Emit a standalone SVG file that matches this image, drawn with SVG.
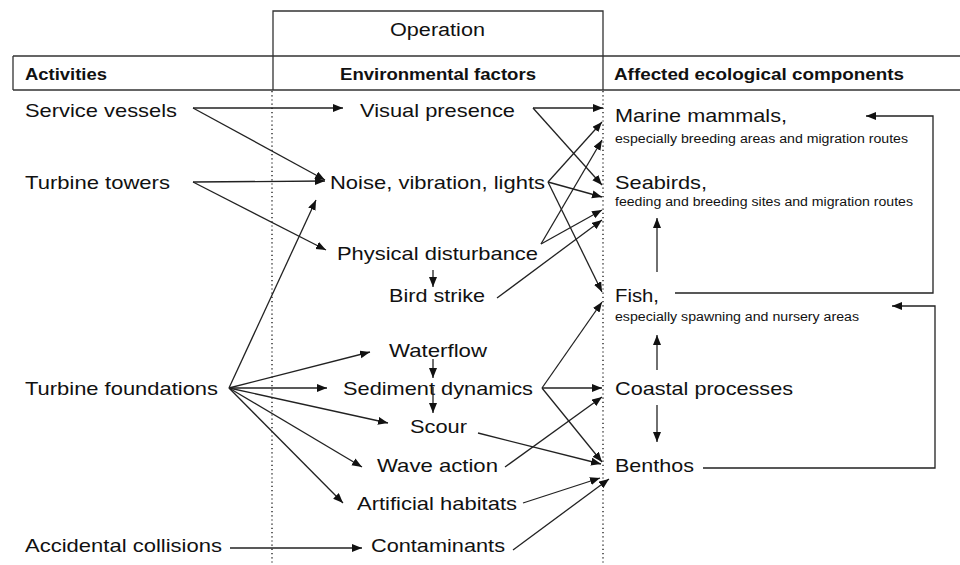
<svg xmlns="http://www.w3.org/2000/svg" width="960" height="565" viewBox="0 0 960 565">
<defs>
<marker id="ah" markerUnits="userSpaceOnUse" markerWidth="11" markerHeight="9" refX="10" refY="4" orient="auto">
<path d="M0,0 L10,4 L0,8 z" fill="#111"/>
</marker>
<style>
.t{font-family:"Liberation Sans",Arial,sans-serif;font-size:19px;fill:#111}
.s{font-family:"Liberation Sans",Arial,sans-serif;font-size:12.5px;fill:#111}
.h{font-family:"Liberation Sans",Arial,sans-serif;font-size:16px;font-weight:bold;fill:#111}
.op{font-family:"Liberation Sans",Arial,sans-serif;font-size:18px;fill:#111}
.frame{fill:none;stroke:#333;stroke-width:1.3}
.dot{fill:none;stroke:#333;stroke-width:1.5;stroke-dasharray:1.2 3}
.c{fill:none;stroke:#222;stroke-width:1.3;marker-end:url(#ah)}
.cn{fill:none;stroke:#222;stroke-width:1.3}
</style>
</defs>
<rect width="960" height="565" fill="#fff"/>
<g id="header">
<path class="frame" d="M273,90 V11 H603 V90 M13,56 H960 M13,90 H960 M13,56 V90"/>
<text class="op" x="390" y="36" textLength="95" lengthAdjust="spacingAndGlyphs">Operation</text>
<text class="h" x="25" y="80" textLength="82" lengthAdjust="spacingAndGlyphs">Activities</text>
<text class="h" x="340" y="80" textLength="196" lengthAdjust="spacingAndGlyphs">Environmental factors</text>
<text class="h" x="614" y="80" textLength="290" lengthAdjust="spacingAndGlyphs">Affected ecological components</text>
</g>
<g id="dividers">
<line class="dot" x1="272" y1="91" x2="272" y2="565"/>
<line class="dot" x1="603" y1="91" x2="603" y2="565"/>
</g>
<g id="service-vessels"><text class="t" x="25" y="117" textLength="152" lengthAdjust="spacingAndGlyphs">Service vessels</text></g>
<g id="turbine-towers"><text class="t" x="25" y="189" textLength="145" lengthAdjust="spacingAndGlyphs">Turbine towers</text></g>
<g id="turbine-foundations"><text class="t" x="25" y="395" textLength="193" lengthAdjust="spacingAndGlyphs">Turbine foundations</text></g>
<g id="accidental-collisions"><text class="t" x="25" y="552" textLength="197" lengthAdjust="spacingAndGlyphs">Accidental collisions</text></g>
<g id="visual-presence"><text class="t" x="360" y="117" textLength="155" lengthAdjust="spacingAndGlyphs">Visual presence</text></g>
<g id="noise"><text class="t" x="330" y="189" textLength="215" lengthAdjust="spacingAndGlyphs">Noise, vibration, lights</text></g>
<g id="physical-disturbance"><text class="t" x="337" y="260" textLength="201" lengthAdjust="spacingAndGlyphs">Physical disturbance</text></g>
<g id="bird-strike"><text class="t" x="389" y="302" textLength="96" lengthAdjust="spacingAndGlyphs">Bird strike</text></g>
<g id="waterflow"><text class="t" x="389" y="357" textLength="98" lengthAdjust="spacingAndGlyphs">Waterflow</text></g>
<g id="sediment-dynamics"><text class="t" x="343" y="395" textLength="190" lengthAdjust="spacingAndGlyphs">Sediment dynamics</text></g>
<g id="scour"><text class="t" x="410" y="433" textLength="57" lengthAdjust="spacingAndGlyphs">Scour</text></g>
<g id="wave-action"><text class="t" x="377" y="472" textLength="121" lengthAdjust="spacingAndGlyphs">Wave action</text></g>
<g id="artificial-habitats"><text class="t" x="357" y="510" textLength="160" lengthAdjust="spacingAndGlyphs">Artificial habitats</text></g>
<g id="contaminants"><text class="t" x="371" y="552" textLength="134" lengthAdjust="spacingAndGlyphs">Contaminants</text></g>
<g id="marine-mammals">
<text class="t" x="615" y="122" textLength="172" lengthAdjust="spacingAndGlyphs">Marine mammals,</text>
<text class="s" x="615" y="143" textLength="293" lengthAdjust="spacingAndGlyphs">especially breeding areas and migration routes</text>
</g>
<g id="seabirds">
<text class="t" x="615" y="189" textLength="92" lengthAdjust="spacingAndGlyphs">Seabirds,</text>
<text class="s" x="615" y="206" textLength="298" lengthAdjust="spacingAndGlyphs">feeding and breeding sites and migration routes</text>
</g>
<g id="fish">
<text class="t" x="615" y="302" textLength="44" lengthAdjust="spacingAndGlyphs">Fish,</text>
<text class="s" x="615" y="321" textLength="244" lengthAdjust="spacingAndGlyphs">especially spawning and nursery areas</text>
</g>
<g id="coastal-processes"><text class="t" x="615" y="395" textLength="178" lengthAdjust="spacingAndGlyphs">Coastal processes</text></g>
<g id="benthos"><text class="t" x="615" y="472" textLength="79" lengthAdjust="spacingAndGlyphs">Benthos</text></g>
<g id="connectors">
<line class="c" x1="193" y1="108" x2="343" y2="108"/>
<line class="c" x1="193" y1="108" x2="325" y2="180"/>
<line class="c" x1="193" y1="182" x2="325" y2="181"/>
<line class="c" x1="193" y1="182" x2="326" y2="250"/>
<line class="c" x1="229" y1="388" x2="316" y2="200"/>
<line class="c" x1="229" y1="388" x2="370" y2="352"/>
<line class="c" x1="229" y1="388" x2="327" y2="388"/>
<line class="c" x1="229" y1="388" x2="388" y2="423"/>
<line class="c" x1="229" y1="388" x2="362" y2="467"/>
<line class="c" x1="229" y1="388" x2="343" y2="503"/>
<line class="c" x1="230" y1="548" x2="362" y2="548"/>
<line class="c" x1="533" y1="108" x2="603" y2="108"/>
<line class="c" x1="533" y1="108" x2="602" y2="185"/>
<line class="c" x1="548" y1="182" x2="602" y2="122"/>
<line class="c" x1="548" y1="182" x2="602" y2="197"/>
<line class="c" x1="548" y1="182" x2="602" y2="292"/>
<line class="c" x1="541" y1="244" x2="602" y2="140"/>
<line class="c" x1="541" y1="244" x2="602" y2="210"/>
<line class="c" x1="497" y1="298" x2="602" y2="220"/>
<line class="c" x1="433" y1="270" x2="433" y2="287"/>
<line class="c" x1="433" y1="359" x2="433" y2="378"/>
<line class="c" x1="433" y1="387" x2="433" y2="413"/>
<line class="c" x1="542" y1="388" x2="602" y2="302"/>
<line class="c" x1="542" y1="388" x2="602" y2="388"/>
<line class="c" x1="542" y1="388" x2="602" y2="462"/>
<line class="c" x1="478" y1="433" x2="601" y2="464"/>
<line class="c" x1="505" y1="467" x2="602" y2="397"/>
<line class="c" x1="523" y1="503" x2="600" y2="478"/>
<line class="c" x1="513" y1="550" x2="609" y2="479"/>
<line class="c" x1="657" y1="272" x2="657" y2="218"/>
<line class="c" x1="657" y1="370" x2="657" y2="335"/>
<line class="c" x1="657" y1="405" x2="657" y2="442"/>
<polyline class="c" points="675,293 933,293 933,116 866,116"/>
<polyline class="c" points="703,468 935,468 935,306 892,306"/>
</g>
</svg>
